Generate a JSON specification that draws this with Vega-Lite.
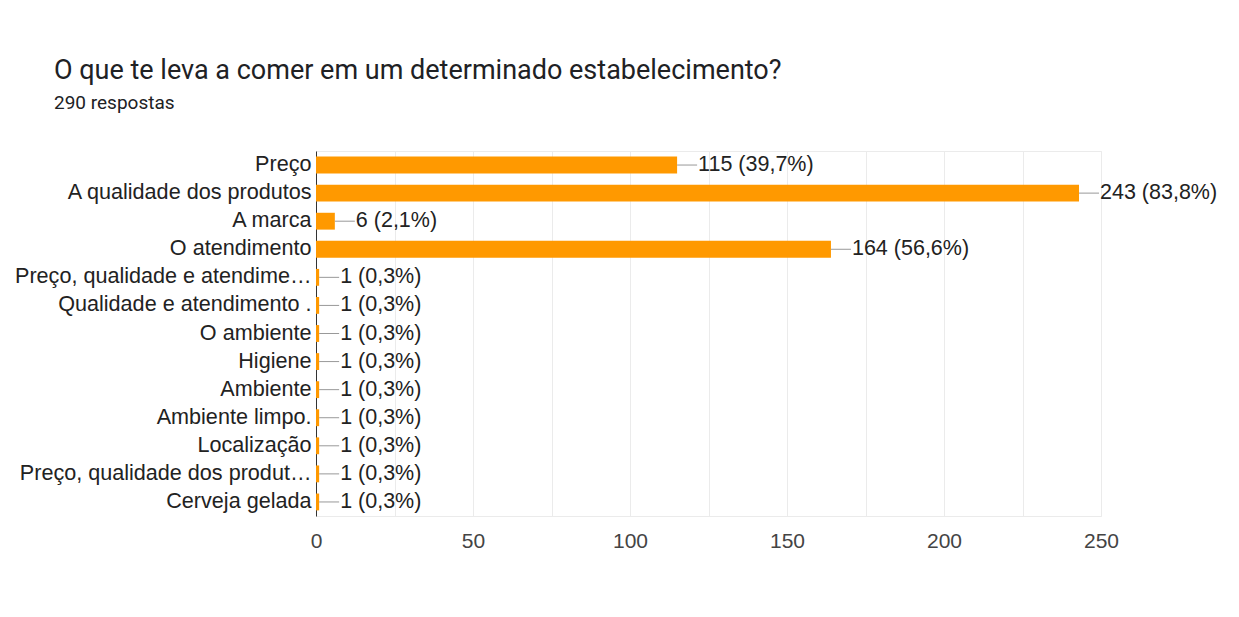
{
  "$schema": "https://vega.github.io/schema/vega-lite/v6.json",
  "autosize": {"type": "none"},
  "width": 785,
  "height": 365,
  "padding": {"left": 316, "top": 151, "right": 138, "bottom": 101},
  "background": "white",
  "title": {
    "text": "O que te leva a comer em um determinado estabelecimento?",
    "subtitle": "290 respostas",
    "anchor": "start",
    "frame": "group",
    "dx": -262,
    "offset": 37,
    "font": "Roboto",
    "fontSize": 27,
    "fontWeight": "normal",
    "color": "#202124",
    "subtitleFont": "Roboto",
    "subtitleFontSize": 19,
    "subtitleColor": "#202124",
    "subtitlePadding": 9
  },
  "config": {
    "view": {"stroke": "#ebebeb", "strokeWidth": 1},
    "font": "Liberation Sans"
  },
  "data": {
    "values": [
      {"opcao": "Preço", "n": 115, "label": "115 (39,7%)"},
      {"opcao": "A qualidade dos produtos", "n": 243, "label": "243 (83,8%)"},
      {"opcao": "A marca", "n": 6, "label": "6 (2,1%)"},
      {"opcao": "O atendimento", "n": 164, "label": "164 (56,6%)"},
      {"opcao": "Preço, qualidade e atendime…", "n": 1, "label": "1 (0,3%)"},
      {"opcao": "Qualidade e atendimento .", "n": 1, "label": "1 (0,3%)"},
      {"opcao": "O ambiente", "n": 1, "label": "1 (0,3%)"},
      {"opcao": "Higiene", "n": 1, "label": "1 (0,3%)"},
      {"opcao": "Ambiente", "n": 1, "label": "1 (0,3%)"},
      {"opcao": "Ambiente limpo.", "n": 1, "label": "1 (0,3%)"},
      {"opcao": "Localização", "n": 1, "label": "1 (0,3%)"},
      {"opcao": "Preço, qualidade dos produt…", "n": 1, "label": "1 (0,3%)"},
      {"opcao": "Cerveja gelada", "n": 1, "label": "1 (0,3%)"}
    ]
  },
  "encoding": {
    "y": {
      "field": "opcao",
      "type": "nominal",
      "sort": null,
      "scale": {"paddingInner": 0.4, "paddingOuter": 0.2},
      "axis": {
        "title": null,
        "ticks": false,
        "domain": true,
        "domainColor": "#333333",
        "labelFont": "Liberation Sans",
        "labelFontSize": 21.6,
        "labelColor": "#222222",
        "labelPadding": 5,
        "labelLimit": 400,
        "grid": false
      }
    },
    "x": {
      "field": "n",
      "type": "quantitative",
      "scale": {"domain": [0, 250], "nice": false},
      "axis": {
        "title": null,
        "values": [0, 25, 50, 75, 100, 125, 150, 175, 200, 225, 250],
        "labelExpr": "datum.value % 50 === 0 ? datum.label : ''",
        "labelFlush": false,
        "ticks": false,
        "domain": false,
        "grid": true,
        "gridColor": "#ebebeb",
        "labelFont": "Liberation Sans",
        "labelFontSize": 21,
        "labelColor": "#444444",
        "labelPadding": 14
      }
    }
  },
  "layer": [
    {"mark": {"type": "bar", "color": "#ff9900"}},
    {
      "mark": {"type": "rule", "color": "#999999", "strokeWidth": 1, "x2Offset": 20},
      "encoding": {"x2": {"field": "n"}}
    },
    {
      "mark": {"type": "text", "align": "left", "baseline": "middle", "dx": 21, "font": "Liberation Sans", "fontSize": 21.5, "color": "#222222"},
      "encoding": {"text": {"field": "label"}}
    }
  ]
}
